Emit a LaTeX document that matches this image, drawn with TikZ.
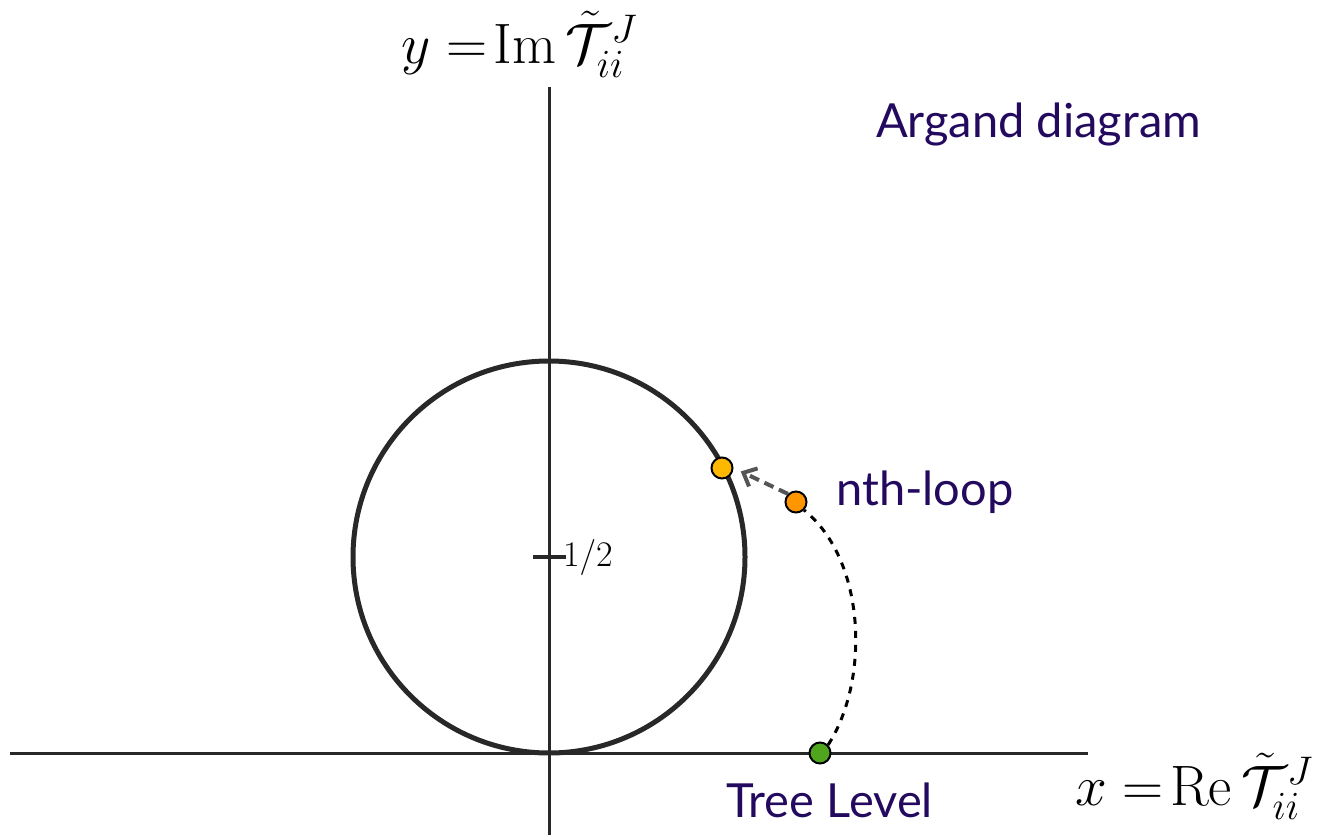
\RequirePackage{fix-cm}
\documentclass[tikz,border=0pt]{standalone}
\usepackage{fontspec}
\newfontfamily\labfont{Lato}
\usetikzlibrary{arrows.meta}
\definecolor{ink}{RGB}{40,40,40}
\definecolor{lab}{RGB}{35,10,95}
\definecolor{ptyellow}{RGB}{255,184,0}
\definecolor{ptorange}{RGB}{255,150,0}
\definecolor{ptgreen}{RGB}{80,165,30}
\definecolor{arrgray}{RGB}{85,85,85}
\tikzset{
  axis/.style={draw=ink, line width=3pt},
  pt/.style={circle, draw=black, line width=2pt, minimum size=21pt, inner sep=0pt},
  txt/.style={text=lab, font=\labfont\fontsize{47}{52}\selectfont, inner sep=0pt},
  mathlab/.style={inner sep=0pt, font=\fontsize{57}{62}\selectfont},
}
\begin{document}
\begin{tikzpicture}[x=1pt,y=-1pt]
\useasboundingbox (0,0) rectangle (1338,835);
% axes
\coordinate (xl) at (10,753);
\coordinate (xr) at (1088,753);
\coordinate (yt) at (549,87);
\coordinate (yb) at (549,835);
\draw[axis] (xl) -- (xr);
\draw[axis] (yb) -- (yt);
% circle
\node[circle, draw=ink, line width=5pt, minimum size=392pt, inner sep=0pt] (circ) at (549,557) {};
% tick
\coordinate (tl) at (533,557);
\coordinate (tr) at (566,557);
\draw[draw=ink, line width=4pt] (tl) -- (tr);
\node[anchor=west, inner sep=0pt, font=\fontsize{36}{40}\selectfont] (half) at (563,557) {$1/2$};
% points
\node[pt, fill=ptgreen] (tree) at (820,753) {};
\node[pt, fill=ptorange] (loop) at (796,502) {};
\node[pt, fill=ptyellow] (circpt) at (722,468) {};
% dashed curve
\draw[black, line width=3pt, dash pattern=on 7pt off 7pt]
  (tree.north east) .. controls (870,680) and (866,560) .. (loop.south east);
% arrow
\draw[arrgray, line width=4pt, dash pattern=on 10pt off 6pt, shorten >=8pt, -{Straight Barb[length=11pt,width=20pt,line width=4pt]}]
  (loop.north west) -- (circpt.east);
% labels
\node[txt, anchor=west] (nth) at (836,492) {nth-loop};
\node[txt, anchor=west] (treel) at (726,800) {Tree Level};
\node[txt, anchor=west] (arg) at (876,124) {Argand diagram};
\node[mathlab, anchor=base west] (ylab) at (401,63) {$y =\mskip-3mu\mathrm{Im}\,\tilde{\mathcal{T}}_{ii}^{J}$};
\node[mathlab, anchor=base west] (xlab) at (1075,805) {$x =\mskip-3mu\mathrm{Re}\,\tilde{\mathcal{T}}_{ii}^{J}$};
\end{tikzpicture}
\end{document}
